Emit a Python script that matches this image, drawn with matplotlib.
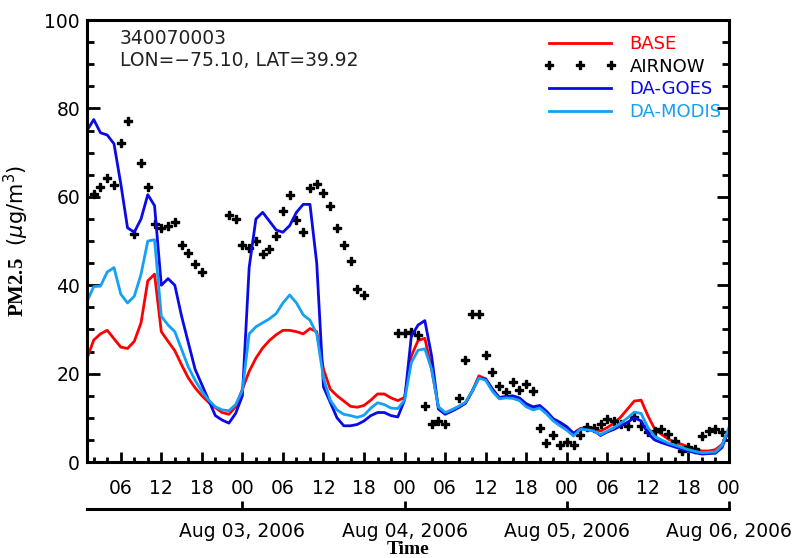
import numpy as np
import matplotlib
matplotlib.use('Agg')
import matplotlib.pyplot as plt

# hours since Aug 02, 2006 00:00
hours = np.arange(1, 97)

base = [23.4, 27.6, 29.0, 29.8, 27.9, 26.0, 25.7, 27.3, 31.5, 41.0,
        42.5, 29.5, 27.3, 25.2, 22.0, 19.0, 16.8, 15.0, 13.5, 12.3,
        11.2, 10.8, 12.5, 16.5, 20.5, 23.5, 25.8, 27.5, 28.8, 29.8,
        29.8, 29.5, 29.0, 30.2, 29.5, 21.0, 16.5, 15.0, 13.8, 12.6,
        12.4, 12.8, 14.0, 15.4, 15.4, 14.5, 13.9, 14.6, 24.0, 27.5,
        28.0, 21.0, 12.5, 11.0, 11.8, 12.5, 13.3, 16.0, 19.5, 18.8,
        16.5, 14.6, 14.8, 14.8, 14.3, 13.0, 12.3, 12.6, 11.3, 9.5,
        8.8, 7.8, 6.5, 7.6, 7.8, 7.6, 7.0, 7.8, 8.8, 10.2,
        12.0, 13.8, 14.0, 10.5, 7.5, 6.3, 5.2, 4.5, 4.0, 3.4,
        2.9, 2.5, 2.5, 2.8, 4.0, 7.4]

da_goes = [75.0, 77.5, 74.5, 74.0, 72.0, 63.0, 53.0, 52.0, 55.0, 60.5,
           58.0, 40.0, 41.5, 40.0, 33.0, 27.0, 21.0, 17.5, 14.0, 10.5,
           9.5, 8.8, 11.0, 15.0, 44.0, 55.0, 56.5, 54.5, 52.5, 52.0,
           53.5, 56.5, 58.3, 58.3, 45.0, 17.0, 13.5, 10.0, 8.2, 8.2,
           8.5, 9.3, 10.5, 11.2, 11.2, 10.5, 10.2, 14.0, 28.5, 31.0,
           32.0, 24.0, 12.0, 10.8, 11.5, 12.3, 13.3, 16.0, 19.0, 18.8,
           16.5, 14.6, 14.8, 15.0, 14.5, 13.2, 12.5, 12.8, 11.5, 9.8,
           9.0, 8.0, 6.5, 7.4, 7.3, 7.1, 6.0, 6.8, 7.4, 8.2,
           9.0, 10.0, 9.3, 6.5, 5.0, 4.4, 3.9, 3.4, 2.9, 2.5,
           2.1, 1.8, 1.9, 2.0, 3.3, 7.4]

da_modis = [36.3, 39.7, 39.8, 43.0, 44.0, 38.0, 36.0, 37.5, 42.5, 50.0,
            50.3, 33.0, 31.0, 29.5, 25.5, 21.5, 18.5, 16.0, 14.0, 12.5,
            11.8, 11.6, 13.0, 16.2, 29.0, 30.6, 31.5, 32.4, 33.6, 36.0,
            37.8, 36.0, 33.3, 32.1, 29.0, 19.0, 14.0, 11.8, 10.8, 10.5,
            10.1, 10.6, 12.2, 13.4, 13.0, 12.2, 12.1, 14.0, 22.5, 25.3,
            25.6, 21.0, 12.5, 11.2, 11.8, 12.6, 13.5, 16.0, 19.0, 18.5,
            16.0, 14.3, 14.5, 14.4, 13.9, 12.5, 11.8, 12.2, 10.9, 9.3,
            8.2, 7.2, 5.9, 7.4, 7.3, 7.0, 6.2, 7.0, 7.8, 8.8,
            10.0, 11.3, 11.0, 7.8, 5.8, 5.0, 4.3, 3.8, 3.3, 2.8,
            2.4, 2.1, 2.2, 2.3, 3.8, 7.8]

nan = np.nan
airnow = [nan, 60.6, 62.3, 64.2, 62.6, 72.2, 77.1, 51.6, 67.6, 62.3,
          53.8, 53.0, 53.4, 54.3, 49.0, 47.4, 44.9, 42.9, nan, nan,
          nan, 56.0, 54.9, 49.2, 48.4, 49.9, 47.1, 48.2, 51.1, 56.8,
          60.4, 54.7, 52.0, 62.1, 63.0, 60.8, 58.0, 53.0, 49.2, 45.6,
          39.2, 37.7, nan, nan, nan, nan, 29.3, 29.2, 29.5, 28.7,
          12.6, 8.7, 9.2, 8.7, nan, 14.6, 23.0, 33.6, 33.6, 24.2,
          20.3, 17.2, 15.9, 18.1, 16.3, 17.7, 16.0, 7.6, 4.2, 6.2,
          3.8, 4.6, 3.9, 6.2, 8.0, 7.8, 8.7, 9.7, 9.3, 8.6,
          8.2, 10.2, 8.2, 6.7, 7.1, 7.4, 6.3, 4.8, 2.5, 3.3,
          2.9, 5.9, 7.1, 7.4, 6.7, nan]

date_labels = ['Aug 03, 2006', 'Aug 04, 2006', 'Aug 05, 2006', 'Aug 06, 2006']
site_id = '340070003'
site_pos = 'LON=\u221275.10, LAT=39.92'

plt.rcParams['font.family'] = ['DejaVu Sans']
plt.rcParams['mathtext.fontset'] = 'custom'
plt.rcParams['mathtext.rm'] = 'DejaVu Sans'
plt.rcParams['mathtext.it'] = 'DejaVu Sans:italic'
plt.rcParams['mathtext.bf'] = 'Liberation Serif:bold'

fs = 13.5

fig = plt.figure(figsize=(7.95, 5.58), dpi=100)
ax = fig.add_axes([0.1094, 0.172, 0.8075, 0.792])

c_base = '#ff0000'
c_goes = '#0a0ae8'
c_modis = '#14a0f5'

ax.plot(hours, base, color=c_base, lw=2.0, label='BASE')
ax.plot(hours, airnow, ls='none', marker='P', ms=5.5, color='black', label='AIRNOW')
ax.plot(hours, da_goes, color=c_goes, lw=2.0, label='DA-GOES')
ax.plot(hours, da_modis, color=c_modis, lw=2.0, label='DA-MODIS')

ax.set_xlim(1, 96)
ax.set_ylim(0, 100)

ax.set_xticks(np.arange(6, 97, 6))
ax.set_xticklabels(['%02d' % (h % 24) for h in range(6, 97, 6)])
ax.set_xticks(np.arange(2, 97, 2), minor=True)
ax.set_yticks(np.arange(0, 101, 20))
ax.set_yticks(np.arange(0, 101, 5), minor=True)

for s in ax.spines.values():
    s.set_linewidth(2.2)
ax.tick_params(which='both', direction='in', top=True, right=True, width=2.0, labelsize=fs)
ax.tick_params(axis='y', which='major', length=9, pad=5)
ax.tick_params(axis='y', which='minor', length=5)
ax.tick_params(axis='x', which='major', length=7, pad=12)
ax.tick_params(axis='x', which='minor', length=3.5)

ax.set_ylabel(r'$\mathbf{PM2.5}$  ($\mu$g/m$^3$)', fontsize=15, labelpad=10)

ax.text(0.051, 0.959, site_id, transform=ax.transAxes, va='center', fontsize=fs, color='#222222')
ax.text(0.051, 0.909, site_pos, transform=ax.transAxes, va='center', fontsize=fs, color='#222222')

leg = ax.legend(loc='upper right', bbox_to_anchor=(1.0, 0.983), frameon=False, numpoints=3,
                handlelength=4.0, handletextpad=0.75, labelspacing=0.26, fontsize=13,
                labelcolor='linecolor', borderaxespad=0.0)

# date axis below
ax2 = ax.twiny()
ax2.set_xlim(ax.get_xlim())
ax2.xaxis.set_ticks_position('bottom')
ax2.xaxis.set_label_position('bottom')
ax2.spines['bottom'].set_position(('outward', 34))
ax2.spines['bottom'].set_linewidth(2.2)
for k in ['top', 'left', 'right']:
    ax2.spines[k].set_visible(False)
ax2.set_xticks(np.arange(24, 97, 24))
ax2.set_xticklabels(date_labels)
ax2.tick_params(axis='x', direction='in', length=6, width=2.0, labelsize=fs, pad=9)
ax2.set_xlabel('Time', fontsize=14, fontweight='bold', family='Liberation Serif', labelpad=0)

plt.savefig('out.png', dpi=100)
plt.close()
